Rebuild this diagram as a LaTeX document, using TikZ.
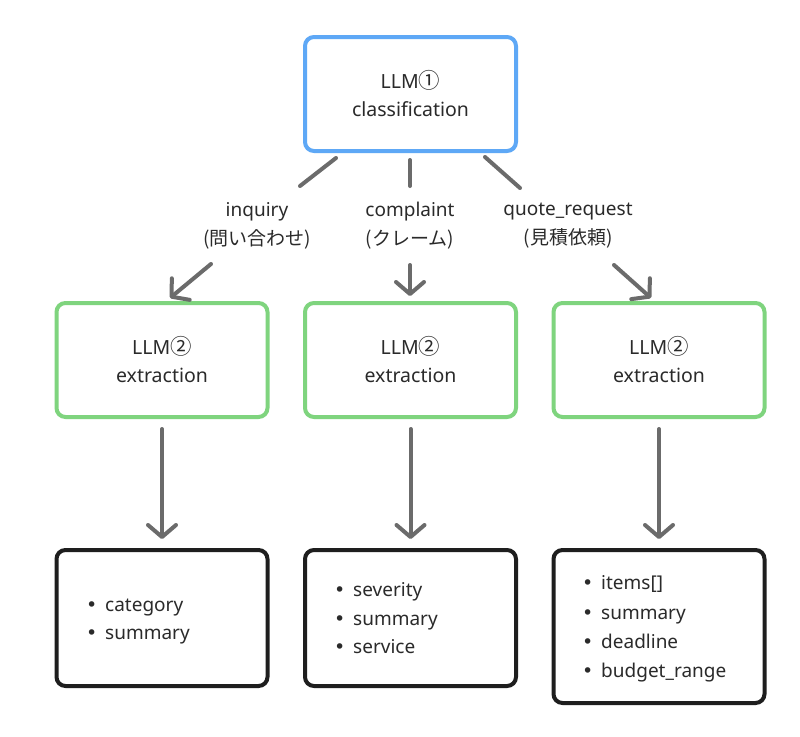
\documentclass[tikz,border=0pt]{standalone}
\usepackage{fontspec}
\setmainfont{Noto Sans}
\newfontfamily\cjk{Noto Sans CJK JP}
\newfontfamily\dvs{DejaVu Sans}
\usetikzlibrary{arrows.meta}
\definecolor{blueE}{HTML}{5EA8F6}
\definecolor{greenE}{HTML}{7FD47E}
\definecolor{darkE}{HTML}{1E1E1E}
\definecolor{grayE}{HTML}{6B6B6B}
\definecolor{txtE}{HTML}{2A2A2A}
\newcommand{\bul}{\makebox[19pt][l]{{\dvs •}}}
\newcommand{\cnum}[1]{{\cjk\scalebox{1.1}{#1}}}
\begin{document}
\begin{tikzpicture}[x=1pt,y=-1pt,
  box/.style={draw, line width=4pt, rounded corners=9pt, fill=white, minimum width=211pt, inner sep=0pt, align=center, text=txtE, font=\fontsize{19.5}{28}\selectfont},
  bluebox/.style={box, draw=blueE, minimum height=114pt},
  greenbox/.style={box, draw=greenE, minimum height=114pt},
  blackbox/.style={box, draw=darkE},
  conn/.style={draw=grayE, line width=4pt, line cap=round},
  arr/.style={conn, -{Straight Barb[length=12pt,width=28pt,round]}},
  lab/.style={text=txtE, font=\fontsize{19}{29}\selectfont, align=center},
  item/.style={text=txtE, font=\fontsize{19}{29}\selectfont, anchor=base west, inner sep=0pt}
]
\useasboundingbox (0,0) rectangle (800,736);
\fill[white] (0,0) rectangle (800,736);

\node[bluebox] (top) at (410.5,94) {LLM\cnum{①}\\classification};

\node[greenbox] (g1) at (162,360) {LLM\cnum{②}\\extraction};
\node[greenbox] (g2) at (410.5,360) {LLM\cnum{②}\\extraction};
\node[greenbox] (g3) at (659,360) {LLM\cnum{②}\\extraction};

\node[blackbox, minimum height=136pt] (b1) at (162,618) {};
\node[blackbox, minimum height=136pt] (b2) at (410.5,618) {};
\node[blackbox, minimum height=153pt] (b3) at (659,626.5) {};

% labels
\node[lab] (l1) at (257,226) {inquiry\\{\cjk (問い合わせ)}};
\node[lab] (l2) at (410,226) {complaint\\{\cjk (クレーム)}};
\node[lab] (l3) at (568,226) {quote\_request\\{\cjk (見積依頼)}};

% connector end points
\coordinate (s1) at (336,158); \coordinate (e1) at (300,186);
\coordinate (s2) at (410,160); \coordinate (e2) at (410,186);
\coordinate (s3) at (485,157); \coordinate (e3) at (520,188);
\coordinate (t1) at (211,264); \coordinate (t2) at (410,265); \coordinate (t3) at (614,265);
\coordinate (h1) at (170,298); \coordinate (h2) at (410,296); \coordinate (h3) at (651,298);

\draw[conn] (s1) -- (e1);
\draw[conn] (s2) -- (e2);
\draw[conn] (s3) -- (e3);
\draw[arr] (t1) -- (h1);
\draw[arr] (t2) -- (h2);
\draw[arr] (t3) -- (h3);

\draw[arr] ([yshift=-10pt]g1.south) -- ([yshift=9pt]b1.north);
\draw[arr] ([yshift=-10pt]g2.south) -- ([yshift=9pt]b2.north);
\draw[arr] ([yshift=-10pt]g3.south) -- ([yshift=9pt]b3.north);

% bullet items
\node[item] (i11) at (86,611) {\bul category};
\node[item] (i12) at (86,639) {\bul summary};

\node[item] (i21) at (334,596) {\bul severity};
\node[item] (i22) at (334,625) {\bul summary};
\node[item] (i23) at (334,653) {\bul service};

\node[item] (i31) at (582,589) {\bul items[]};
\node[item] (i32) at (582,619) {\bul summary};
\node[item] (i33) at (582,648) {\bul deadline};
\node[item] (i34) at (582,677) {\bul budget\_range};
\end{tikzpicture}
\end{document}
